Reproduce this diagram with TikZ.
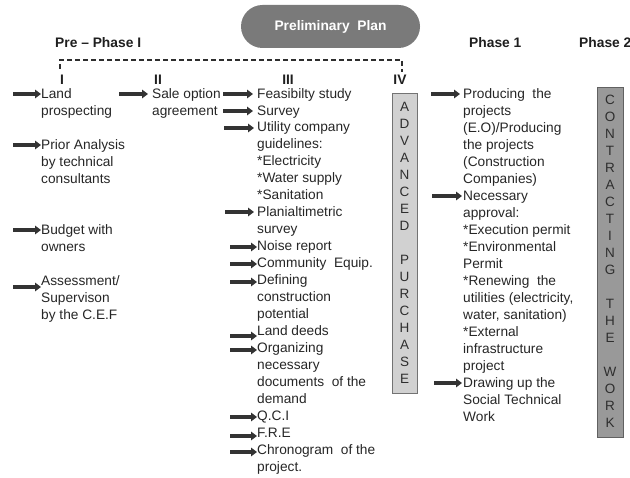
\documentclass[tikz,border=0pt]{standalone}
\usepackage{fontspec}
\setmainfont{Liberation Sans}
\usetikzlibrary{arrows.meta}

\begin{document}
\begin{tikzpicture}[x=1pt,y=-1pt,
  txt/.style={anchor=north west, inner sep=0pt, align=left, text=black!85, font=\fontsize{13.7}{17}\selectfont},
  hd/.style={anchor=base west, inner sep=0pt, text=black!88, font=\bfseries\fontsize{13.8}{15}\selectfont},
  num/.style={anchor=base, inner sep=0pt, text=black!88, font=\bfseries\fontsize{13.8}{15}\selectfont},
  vlet/.style={anchor=north, inner sep=0pt, align=center, text=black!82, font=\fontsize{13.5}{17}\selectfont},
  arr/.style={-{Triangle[length=6pt,width=8.5pt]}, line width=3.2pt, draw=black!80},
  plan/.style={fill=black!52, text=white, rounded corners=21.5pt, minimum width=179pt, minimum height=43pt, font=\bfseries\fontsize{13.8}{15}\selectfont}]
\useasboundingbox (0,0) rectangle (630,478);
\node[plan] (plan) at (330.5,26.5) {Preliminary\ \ Plan};
\node[hd] (prephase) at (55,48) {Pre -- Phase I};
\node[hd] (phase1) at (469,48) {Phase 1};
\node[hd] (phase2) at (579,48) {Phase 2};
\coordinate (bl) at (60,69);
\coordinate (br) at (402,72);
\draw[black!82, line width=1.7pt, dash pattern=on 5pt off 3pt] (bl) |- (402,60) -- (br);
\node[num] (n1) at (62,85) {I};
\node[num] (n2) at (158,85) {II};
\node[num] (n3) at (288,85) {III};
\node[num] (n4) at (400,85) {IV};
\node[txt] (land) at (41,86) {\strut Land\\prospecting};
\node[txt] (prior) at (41,137) {\strut Prior Analysis\\by technical\\consultants};
\node[txt] (budget) at (41,222) {\strut Budget with\\owners};
\node[txt] (assess) at (41,273) {\strut Assessment/\\Supervison\\by the C.E.F};
\node[txt] (sale) at (152,86) {\strut Sale option\\agreement};
\node[txt] (feas) at (257,86) {\strut Feasibilty study};
\node[txt] (survey) at (257,103) {\strut Survey};
\node[txt] (utility) at (257,119) {\strut Utility company\\guidelines:\\*Electricity\\*Water supply\\*Sanitation};
\node[txt] (plani) at (257,204) {\strut Planialtimetric\\survey};
\node[txt] (noise) at (257,238) {\strut Noise report};
\node[txt] (commu) at (257,255) {\strut Community\ \ Equip.};
\node[txt] (defin) at (257,272) {\strut Defining\\construction\\potential};
\node[txt] (deeds) at (257,323) {\strut Land deeds};
\node[txt] (organ) at (257,340) {\strut Organizing\\necessary\\documents\ \ of the\\demand};
\node[txt] (qci) at (257,408) {\strut Q.C.I};
\node[txt] (fre) at (257,425) {\strut F.R.E};
\node[txt] (chrono) at (257,442) {\strut Chronogram\ \ of the\\project.};
\node[txt] (produc) at (463,86) {\strut Producing\ \ the\\projects\\(E.O)/Producing\\the projects\\(Construction\\Companies)};
\node[txt] (necess) at (463,188) {\strut Necessary\\approval:\\*Execution permit\\*Environmental\\Permit\\*Renewing\ \ the\\utilities (electricity,\\water, sanitation)\\*External\\infrastructure\\project};
\node[txt] (drawing) at (463,375) {\strut Drawing up the\\Social Technical\\Work};
\filldraw[fill=black!18, draw=black!55, line width=0.8pt] (392,93) rectangle (417,393);
\node[vlet] (advanced) at (404.5,99.6) {\strut A\\D\\V\\A\\N\\C\\E\\D\\[17pt]P\\U\\R\\C\\H\\A\\S\\E};
\filldraw[fill=black!40, draw=black!62, line width=0.8pt] (597,87) rectangle (623,437);
\node[vlet] (contract) at (610,92.6) {\strut C\\O\\N\\T\\R\\A\\C\\T\\I\\N\\G\\[17pt]T\\H\\E\\[17pt]W\\O\\R\\K};
\coordinate (s-land) at (13,94);
\coordinate (s-prior) at (13,145);
\coordinate (s-budget) at (13,230);
\coordinate (s-assess) at (13,287);
\coordinate (s-sale) at (119,94);
\coordinate (s-feas) at (223,94);
\coordinate (s-survey) at (223,111);
\coordinate (s-utility) at (224,128);
\coordinate (s-plani) at (225,212);
\coordinate (s-noise) at (230,247);
\coordinate (s-commu) at (230,264);
\coordinate (s-defin) at (230,282);
\coordinate (s-deeds) at (230,336);
\coordinate (s-organ) at (230,350);
\coordinate (s-qci) at (230,417);
\coordinate (s-fre) at (230,436);
\coordinate (s-chrono) at (230,452);
\coordinate (s-produc) at (431,94);
\coordinate (s-necess) at (432,196);
\coordinate (s-drawing) at (434,383);
\draw[arr] (s-land) -- (s-land -| land.west);
\draw[arr] (s-prior) -- (s-prior -| prior.west);
\draw[arr] (s-budget) -- (s-budget -| budget.west);
\draw[arr] (s-assess) -- (s-assess -| assess.west);
\draw[arr] (s-sale) -- ([xshift=-4pt]s-sale -| sale.west);
\draw[arr] (s-feas) -- ([xshift=-4pt]s-feas -| feas.west);
\draw[arr] (s-survey) -- ([xshift=-4pt]s-survey -| survey.west);
\draw[arr] (s-utility) -- ([xshift=-3pt]s-utility -| utility.west);
\draw[arr] (s-plani) -- ([xshift=-3pt]s-plani -| plani.west);
\draw[arr] (s-noise) -- (s-noise -| noise.west);
\draw[arr] (s-commu) -- (s-commu -| commu.west);
\draw[arr] (s-defin) -- (s-defin -| defin.west);
\draw[arr] (s-deeds) -- (s-deeds -| deeds.west);
\draw[arr] (s-organ) -- (s-organ -| organ.west);
\draw[arr] (s-qci) -- (s-qci -| qci.west);
\draw[arr] (s-fre) -- (s-fre -| fre.west);
\draw[arr] (s-chrono) -- (s-chrono -| chrono.west);
\draw[arr] (s-produc) -- ([xshift=-3pt]s-produc -| produc.west);
\draw[arr] (s-necess) -- ([xshift=-1pt]s-necess -| necess.west);
\draw[arr] (s-drawing) -- ([xshift=-1pt]s-drawing -| drawing.west);
\end{tikzpicture}
\end{document}
